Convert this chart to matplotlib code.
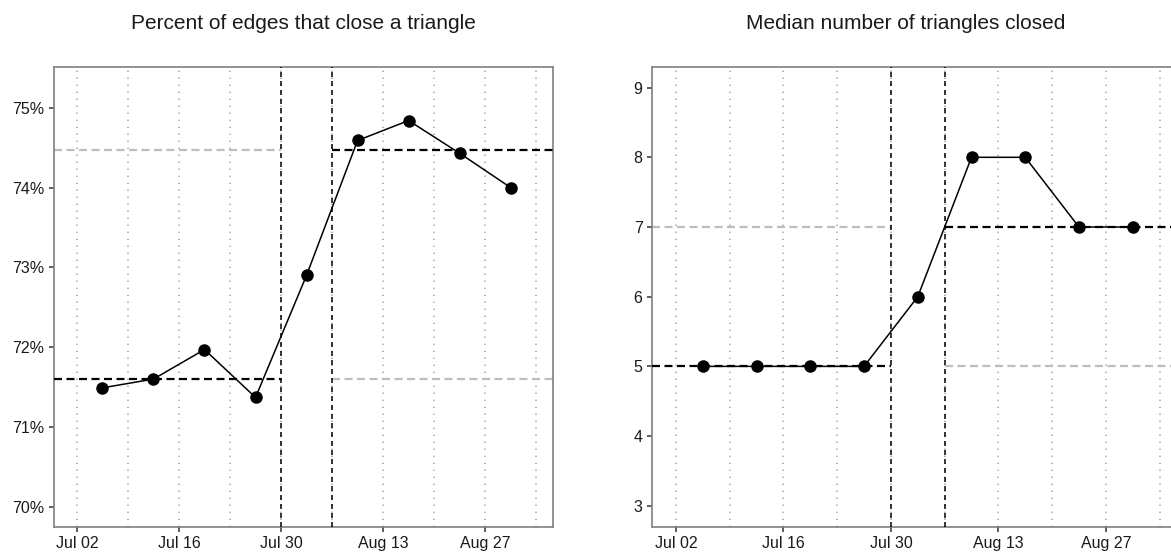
import matplotlib
matplotlib.use("Agg")
import matplotlib.pyplot as plt
import matplotlib.dates as mdates
import matplotlib.ticker as mticker
import pandas as pd

plt.rcParams["font.family"] = ["Liberation Sans", "DejaVu Sans"]
plt.rcParams["lines.scale_dashes"] = False

# weekly observations (mid-week)
weeks = pd.date_range("2016-07-05 12:00", periods=9, freq="7D")
pct_closed = [71.49, 71.60, 71.97, 71.37, 72.90, 74.59, 74.84, 74.43, 74.00]
median_closed = [5, 5, 5, 5, 6, 8, 8, 7, 7]

# change window and the level of each period
cut_start = pd.Timestamp("2016-07-30")
cut_end = pd.Timestamp("2016-08-06")
pct_levels = [71.60, 74.47]      # before, after
median_levels = [5, 7]           # before, after

x_lo = pd.Timestamp("2016-07-02") - pd.Timedelta(days=3.1)
x_hi = pd.Timestamp("2016-07-02") + pd.Timedelta(days=65.35)
major_ticks = pd.date_range("2016-07-02", periods=5, freq="14D")
minor_ticks = pd.date_range("2016-07-09", periods=5, freq="14D")

PX = 0.72  # points per pixel at 100 dpi


def draw_panel(ax, values, levels, ylim, yticks, yfmt, title, title_x):
    ax.set_xlim(x_lo, x_hi)
    ax.set_ylim(*ylim)

    ax.xaxis.set_major_locator(mticker.FixedLocator(mdates.date2num(major_ticks)))
    ax.xaxis.set_minor_locator(mticker.FixedLocator(mdates.date2num(minor_ticks)))
    ax.xaxis.set_major_formatter(mdates.DateFormatter("%b %d"))
    ax.set_yticks(yticks)
    ax.yaxis.set_major_formatter(mticker.FuncFormatter(yfmt))

    ax.grid(which="both", axis="x", color="#b0b0b0", linewidth=1.3,
            linestyle=(0, (1.4 * PX, 5.6 * PX)))
    ax.grid(which="major", axis="y", visible=False)
    ax.set_axisbelow(True)

    for s in ax.spines.values():
        s.set_color("#7f7f7f")
        s.set_linewidth(1.2)
    ax.tick_params(which="major", length=3.5, width=1.1, color="#333333",
                   labelsize=11.5, labelcolor="#1a1a1a", pad=3.5)
    ax.tick_params(which="minor", length=0)

    before, after = levels
    dash_h = (0, (8 * PX, 4.5 * PX))
    # the other period's level, for comparison
    ax.hlines(after, x_lo, cut_start, color="#bebebe", linewidth=1.6,
              linestyle=dash_h, zorder=2)
    ax.hlines(before, cut_end, x_hi, color="#bebebe", linewidth=1.6,
              linestyle=dash_h, zorder=2)
    ax.hlines(before, x_lo, cut_start, color="black", linewidth=1.6,
              linestyle=dash_h, zorder=3)
    ax.hlines(after, cut_end, x_hi, color="black", linewidth=1.6,
              linestyle=dash_h, zorder=3)

    for c in (cut_start, cut_end):
        ax.axvline(c, color="black", linewidth=1.1,
                   linestyle=(0, (5 * PX, 4 * PX)), zorder=3)

    ax.plot(weeks, values, color="black", linewidth=1.1, marker="o",
            markersize=8.0, zorder=4)

    ax.set_title(title, fontsize=15, pad=27, x=title_x, color="#1a1a1a")


fig = plt.figure(figsize=(11.71, 5.53), dpi=100)
ax1 = fig.add_axes([0.0464, 0.0476, 0.4261, 0.8318])
ax2 = fig.add_axes([0.5570, 0.0476, 0.4486, 0.8318])

draw_panel(ax1, pct_closed, pct_levels, (69.75, 75.515), range(70, 76),
           lambda v, p: f"{v:.0f}%", "Percent of edges that close a triangle", 0.5)
draw_panel(ax2, median_closed, median_levels, (2.7, 9.3), range(3, 10),
           lambda v, p: f"{v:.0f}", "Median number of triangles closed", 0.482)

fig.savefig("out.png", dpi=100)
